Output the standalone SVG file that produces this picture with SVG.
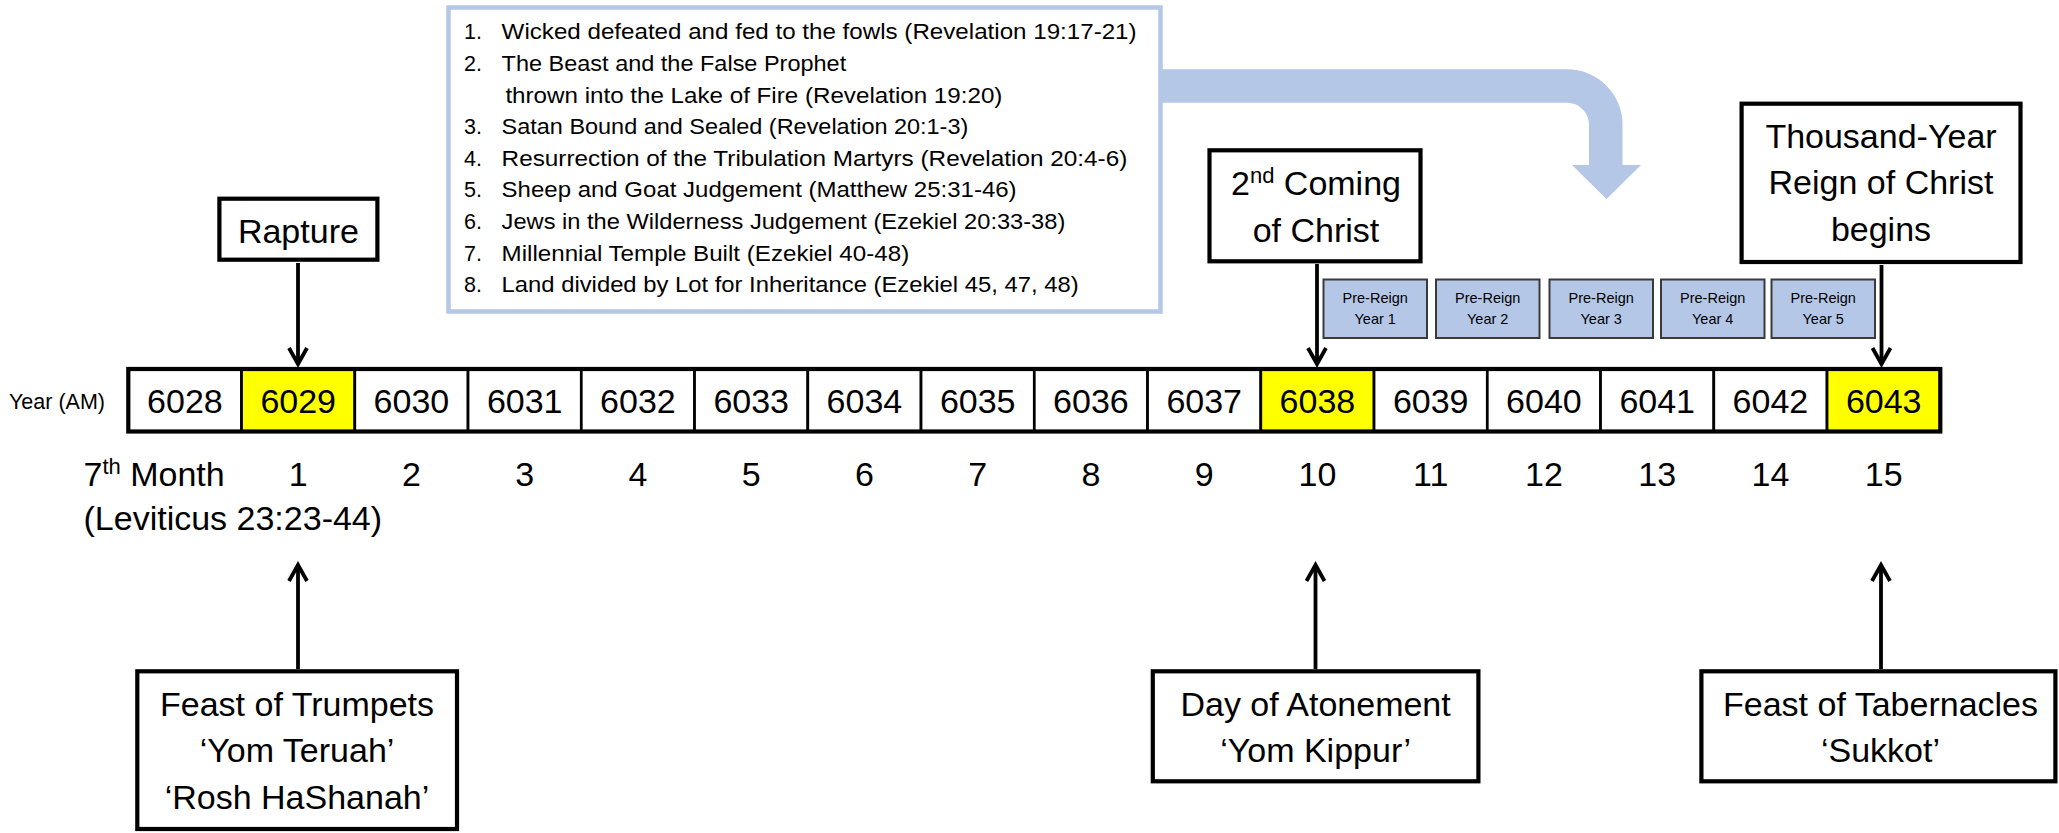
<svg xmlns="http://www.w3.org/2000/svg" width="2059" height="833" viewBox="0 0 2059 833">
<style>
text{font-family:"Liberation Sans",Arial,sans-serif;fill:#000}
.lbl{font-size:34px;text-anchor:middle}
.yr{font-size:34px;text-anchor:middle}
.mo{font-size:34px;text-anchor:middle}
.li{font-size:21.5px}
.pr{font-size:14.5px;text-anchor:middle}
.box{fill:#fff;stroke:#000;stroke-width:4.2}
.cell{fill:#fff;stroke:#000;stroke-width:2.7}
.hl{fill:#ffff00}
.pre{fill:#B4C7E7;stroke:#3a3a3a;stroke-width:2}
.conn{stroke:#000;stroke-width:3.8;fill:none}
</style>
<defs>
<marker id="ah" viewBox="0 0 20 20" refX="18" refY="10" markerWidth="20" markerHeight="20" markerUnits="userSpaceOnUse" orient="auto" overflow="visible">
<path d="M2,1 L18,10 L2,19" fill="none" stroke="#000" stroke-width="3.8"/>
</marker>
</defs>
<rect width="2059" height="833" fill="#fff"/>

<g id="big-arrow">
<path d="M1150 69.3 H1567 A55.5 55 0 0 1 1622.5 124.3 V165 H1641 L1606.5 199 L1572 165 H1589 V124.7 A22 22 0 0 0 1567 102.7 H1150 Z" fill="#B4C7E7"/>
</g>

<g id="event-list">
<rect x="448.5" y="7.5" width="712" height="304" fill="#fff" stroke="#B4C7E7" stroke-width="4.5"/>
<text class="li" x="464" y="39.3">1.</text>
<text class="li" x="501.6" y="39.3" textLength="635" lengthAdjust="spacingAndGlyphs">Wicked defeated and fed to the fowls (Revelation 19:17-21)</text>
<text class="li" x="464" y="71">2.</text>
<text class="li" x="501.6" y="71" textLength="344.6" lengthAdjust="spacingAndGlyphs">The Beast and the False Prophet</text>
<text class="li" x="505.4" y="102.6" textLength="497" lengthAdjust="spacingAndGlyphs">thrown into the Lake of Fire (Revelation 19:20)</text>
<text class="li" x="464" y="134.2">3.</text>
<text class="li" x="501.6" y="134.2" textLength="466.7" lengthAdjust="spacingAndGlyphs">Satan Bound and Sealed (Revelation 20:1-3)</text>
<text class="li" x="464" y="165.8">4.</text>
<text class="li" x="501.6" y="165.8" textLength="625.7" lengthAdjust="spacingAndGlyphs">Resurrection of the Tribulation Martyrs (Revelation 20:4-6)</text>
<text class="li" x="464" y="197.4">5.</text>
<text class="li" x="501.6" y="197.4" textLength="515" lengthAdjust="spacingAndGlyphs">Sheep and Goat Judgement (Matthew 25:31-46)</text>
<text class="li" x="464" y="229">6.</text>
<text class="li" x="501.6" y="229" textLength="563.7" lengthAdjust="spacingAndGlyphs">Jews in the Wilderness Judgement (Ezekiel 20:33-38)</text>
<text class="li" x="464" y="260.6">7.</text>
<text class="li" x="501.6" y="260.6" textLength="407.6" lengthAdjust="spacingAndGlyphs">Millennial Temple Built (Ezekiel 40-48)</text>
<text class="li" x="464" y="292.2">8.</text>
<text class="li" x="501.6" y="292.2" textLength="577" lengthAdjust="spacingAndGlyphs">Land divided by Lot for Inheritance (Ezekiel 45, 47, 48)</text>
</g>

<g id="connectors">
<line class="conn" x1="298" y1="263" x2="298" y2="364" marker-end="url(#ah)"/>
<line class="conn" x1="1317" y1="264" x2="1317" y2="364" marker-end="url(#ah)"/>
<line class="conn" x1="1881.5" y1="265" x2="1881.5" y2="364" marker-end="url(#ah)"/>
<line class="conn" x1="298" y1="669" x2="298" y2="565" marker-end="url(#ah)"/>
<line class="conn" x1="1315.5" y1="669" x2="1315.5" y2="565" marker-end="url(#ah)"/>
<line class="conn" x1="1881" y1="669" x2="1881" y2="565" marker-end="url(#ah)"/>
</g>

<g id="rapture">
<rect class="box" x="219.4" y="198.7" width="158" height="61"/>
<text class="lbl" x="298.4" y="242.7">Rapture</text>
</g>

<g id="second-coming">
<rect class="box" x="1209.5" y="150.3" width="211" height="111"/>
<text class="lbl" x="1316" y="195">2<tspan font-size="22" dy="-12">nd</tspan><tspan dy="12"> Coming</tspan></text>
<text class="lbl" x="1316" y="241.7">of Christ</text>
</g>

<g id="thousand-year-reign">
<rect class="box" x="1741.6" y="103.7" width="278.9" height="158.3"/>
<text class="lbl" x="1881" y="147.7">Thousand-Year</text>
<text class="lbl" x="1881" y="194.3">Reign of Christ</text>
<text class="lbl" x="1881" y="240.7">begins</text>
</g>

<g id="pre-reign-1"><rect class="pre" x="1323.5" y="279.5" width="103.5" height="58.5"/><text class="pr" x="1375.2" y="302.7">Pre-Reign</text><text class="pr" x="1375.2" y="324">Year 1</text></g>
<g id="pre-reign-2"><rect class="pre" x="1436" y="279.5" width="103.5" height="58.5"/><text class="pr" x="1487.7" y="302.7">Pre-Reign</text><text class="pr" x="1487.7" y="324">Year 2</text></g>
<g id="pre-reign-3"><rect class="pre" x="1549.5" y="279.5" width="103.5" height="58.5"/><text class="pr" x="1601.2" y="302.7">Pre-Reign</text><text class="pr" x="1601.2" y="324">Year 3</text></g>
<g id="pre-reign-4"><rect class="pre" x="1661" y="279.5" width="103.5" height="58.5"/><text class="pr" x="1712.7" y="302.7">Pre-Reign</text><text class="pr" x="1712.7" y="324">Year 4</text></g>
<g id="pre-reign-5"><rect class="pre" x="1771.5" y="279.5" width="103.5" height="58.5"/><text class="pr" x="1823.2" y="302.7">Pre-Reign</text><text class="pr" x="1823.2" y="324">Year 5</text></g>

<g id="timeline">
<text x="9" y="408.5" font-size="21.5">Year (AM)</text>
<g id="y6028"><rect class="cell" x="128.3" y="369" width="113.25" height="62.5"/><text class="yr" x="184.9" y="413.3">6028</text></g>
<g id="y6029"><rect class="cell hl" x="241.55" y="369" width="113.25" height="62.5"/><text class="yr" x="298.2" y="413.3">6029</text></g>
<g id="y6030"><rect class="cell" x="354.8" y="369" width="113.25" height="62.5"/><text class="yr" x="411.4" y="413.3">6030</text></g>
<g id="y6031"><rect class="cell" x="468.05" y="369" width="113.25" height="62.5"/><text class="yr" x="524.7" y="413.3">6031</text></g>
<g id="y6032"><rect class="cell" x="581.3" y="369" width="113.25" height="62.5"/><text class="yr" x="637.9" y="413.3">6032</text></g>
<g id="y6033"><rect class="cell" x="694.55" y="369" width="113.25" height="62.5"/><text class="yr" x="751.2" y="413.3">6033</text></g>
<g id="y6034"><rect class="cell" x="807.8" y="369" width="113.25" height="62.5"/><text class="yr" x="864.4" y="413.3">6034</text></g>
<g id="y6035"><rect class="cell" x="921.05" y="369" width="113.25" height="62.5"/><text class="yr" x="977.7" y="413.3">6035</text></g>
<g id="y6036"><rect class="cell" x="1034.3" y="369" width="113.25" height="62.5"/><text class="yr" x="1090.9" y="413.3">6036</text></g>
<g id="y6037"><rect class="cell" x="1147.55" y="369" width="113.25" height="62.5"/><text class="yr" x="1204.2" y="413.3">6037</text></g>
<g id="y6038"><rect class="cell hl" x="1260.8" y="369" width="113.25" height="62.5"/><text class="yr" x="1317.4" y="413.3">6038</text></g>
<g id="y6039"><rect class="cell" x="1374.05" y="369" width="113.25" height="62.5"/><text class="yr" x="1430.7" y="413.3">6039</text></g>
<g id="y6040"><rect class="cell" x="1487.3" y="369" width="113.25" height="62.5"/><text class="yr" x="1543.9" y="413.3">6040</text></g>
<g id="y6041"><rect class="cell" x="1600.55" y="369" width="113.25" height="62.5"/><text class="yr" x="1657.2" y="413.3">6041</text></g>
<g id="y6042"><rect class="cell" x="1713.8" y="369" width="113.25" height="62.5"/><text class="yr" x="1770.4" y="413.3">6042</text></g>
<g id="y6043"><rect class="cell hl" x="1827.05" y="369" width="113.25" height="62.5"/><text class="yr" x="1883.7" y="413.3">6043</text></g>
<rect x="128.3" y="369" width="1812" height="62.5" fill="none" stroke="#000" stroke-width="4.2"/>
</g>

<g id="months">
<text x="83.5" y="486" font-size="34">7<tspan font-size="22" dy="-12">th</tspan><tspan dy="12"> Month</tspan></text>
<text x="83.5" y="530" font-size="34">(Leviticus 23:23-44)</text>
<text class="mo" x="298.2" y="486">1</text>
<text class="mo" x="411.4" y="486">2</text>
<text class="mo" x="524.7" y="486">3</text>
<text class="mo" x="637.9" y="486">4</text>
<text class="mo" x="751.2" y="486">5</text>
<text class="mo" x="864.4" y="486">6</text>
<text class="mo" x="977.7" y="486">7</text>
<text class="mo" x="1090.9" y="486">8</text>
<text class="mo" x="1204.2" y="486">9</text>
<text class="mo" x="1317.4" y="486">10</text>
<text class="mo" x="1430.7" y="486">11</text>
<text class="mo" x="1543.9" y="486">12</text>
<text class="mo" x="1657.2" y="486">13</text>
<text class="mo" x="1770.4" y="486">14</text>
<text class="mo" x="1883.7" y="486">15</text>
</g>

<g id="feast-of-trumpets">
<rect class="box" x="137.3" y="671.3" width="319.7" height="157.7"/>
<text class="lbl" x="297" y="715.7">Feast of Trumpets</text>
<text class="lbl" x="297" y="762.3">‘Yom Teruah’</text>
<text class="lbl" x="297" y="809.3">‘Rosh HaShanah’</text>
</g>

<g id="day-of-atonement">
<rect class="box" x="1152.8" y="671.3" width="325.6" height="110"/>
<text class="lbl" x="1315.6" y="715.7">Day of Atonement</text>
<text class="lbl" x="1315.6" y="762.3">‘Yom Kippur’</text>
</g>

<g id="feast-of-tabernacles">
<rect class="box" x="1701.4" y="671.3" width="354" height="110"/>
<text class="lbl" x="1880.5" y="715.7">Feast of Tabernacles</text>
<text class="lbl" x="1880.5" y="762.3">‘Sukkot’</text>
</g>
</svg>
